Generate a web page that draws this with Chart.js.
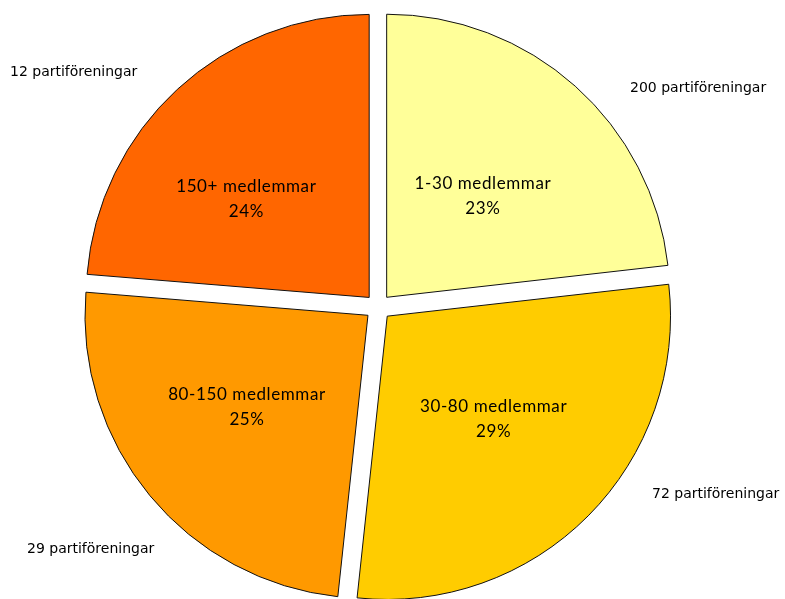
<!DOCTYPE html>
<html>
<head>
<meta charset="utf-8">
<script src="https://cdn.jsdelivr.net/npm/chart.js@4"></script>
<style>
html,body{margin:0;padding:0;background:#fff;overflow:hidden;}
canvas{display:block;}
</style>
</head>
<body>
<canvas id="c" width="785" height="599"></canvas>
<script>
const categories = ["1-30 medlemmar", "30-80 medlemmar", "80-150 medlemmar", "150+ medlemmar"];
const shares = [23.2, 28.5, 24.6, 23.7];
const associations = ["200 partiföreningar", "72 partiföreningar", "29 partiföreningar", "12 partiföreningar"];
const colors = ["#FFFF99", "#FFCC00", "#FF9900", "#FF6600"];

const innerNudge = [[2, 4], [6, 3], [-12, 1], [-27, 5]];
const outerPos = [[630, 88], [652, 494], [27, 549], [10, 72]];

const labelPlugin = {
  id: 'pieLabels',
  afterDatasetsDraw(chart) {
    const ctx = chart.ctx;
    const meta = chart.getDatasetMeta(0);
    ctx.save();
    ctx.fillStyle = '#000';
    meta.data.forEach((arc, i) => {
      const off = (arc.options.offset || 0) / 4;
      const mid = (arc.startAngle + arc.endAngle) / 2;
      const d = arc.outerRadius / 2 + off;
      const x = arc.x + Math.cos(mid) * d + innerNudge[i][0];
      const y = arc.y + Math.sin(mid) * d + innerNudge[i][1];
      ctx.font = '17px Lato, "Noto Sans", sans-serif';
      ctx.letterSpacing = '0.6px';
      ctx.textAlign = 'center';
      ctx.textBaseline = 'middle';
      ctx.fillText(categories[i], x, y - 12);
      ctx.fillText(Math.round(shares[i]) + '%', x, y + 13);
      ctx.letterSpacing = '0px';
      ctx.font = '14px "DejaVu Sans", sans-serif';
      ctx.textAlign = 'left';
      ctx.fillText(associations[i], outerPos[i][0], outerPos[i][1]);
    });
    ctx.restore();
  }
};

new Chart(document.getElementById('c'), {
  type: 'pie',
  data: {
    labels: categories,
    datasets: [{
      data: shares,
      backgroundColor: colors,
      borderColor: '#111',
      borderWidth: 1,
      offset: 52,
      hoverOffset: 0
    }]
  },
  options: {
    responsive: false,
    devicePixelRatio: 1,
    animation: false,
    radius: 283,
    rotation: 0,
    layout: { padding: { left: 0, right: 29, top: 15, bottom: 0 } },
    plugins: {
      legend: { display: false },
      tooltip: { enabled: false }
    }
  },
  plugins: [labelPlugin]
});
</script>
</body>
</html>
